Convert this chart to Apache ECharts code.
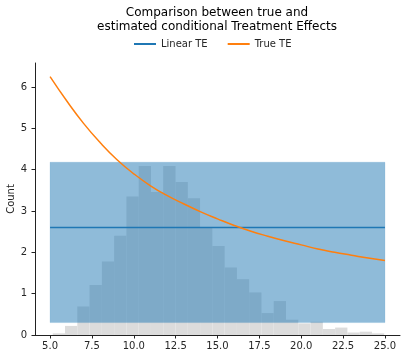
<!DOCTYPE html>
<html>
<head>
<meta charset="utf-8">
<script src="https://cdn.jsdelivr.net/npm/echarts@6/dist/echarts.min.js"></script>
<style>
  html, body { margin: 0; padding: 0; background: #fff; }
  #main { width: 407px; height: 360px; }
</style>
</head>
<body>
<div id="main"></div>
<script>
// histogram of X (Count), bins start at 5.16, width 0.733
var binStart = 5.16;
var binWidth = 0.7333;
var counts = [0.04, 0.22, 0.69, 1.21, 1.78, 2.40, 3.35, 4.09, 3.46, 4.09, 3.70, 3.31, 2.61, 2.15,
  1.63, 1.35, 1.03, 0.53, 0.82, 0.37, 0.28, 0.32, 0.145, 0.18, 0.06, 0.08, 0.04];

// estimated (linear) treatment effect and its interval
var teX = [5, 25];
var linearTE = [2.6, 2.6];
var teLower = [0.3, 0.3];
var teUpper = [4.18, 4.18];

// true treatment effect
var trueX = [5, 6, 7, 8, 9, 10, 11, 12, 13, 14, 15, 16, 17, 18, 19, 20, 21, 22, 23, 24, 25];
var trueTE = [6.25, 5.66, 5.12, 4.65, 4.24, 3.90, 3.61, 3.37, 3.17, 2.98, 2.81, 2.65, 2.51, 2.39,
  2.28, 2.18, 2.08, 2.00, 1.93, 1.86, 1.80];

var xTicks = [5, 7.5, 10, 12.5, 15, 17.5, 20, 22.5, 25];

var histData = counts.map(function (c, i) {
  return [binStart + i * binWidth, binStart + (i + 1) * binWidth, c];
});
var bandData = teX.map(function (x, i) { return [x, teLower[i], teUpper[i]]; });

var font = 'DejaVu Sans';
var myChart = echarts.init(document.getElementById('main'));
var option = {
  animation: false,
  title: {
    text: 'Comparison between true and\nestimated conditional Treatment Effects',
    left: 217,
    top: 6,
    padding: 0,
    textAlign: 'center',
    textStyle: { fontFamily: font, fontSize: 12, fontWeight: 'normal', color: '#000', lineHeight: 14 }
  },
  legend: {
    data: ['Linear TE', 'True TE'],
    left: 134,
    top: 39,
    padding: 0,
    icon: 'rect',
    itemWidth: 22,
    itemHeight: 2,
    itemGap: 20,
    textStyle: { fontFamily: font, fontSize: 10, color: '#262626' }
  },
  grid: { left: 35, right: 7, top: 63, bottom: 25, containLabel: false, outerBoundsMode: 'none' },
  xAxis: {
    type: 'value',
    min: 4.1,
    max: 25.9,
    splitLine: { show: false },
    axisLine: { lineStyle: { color: '#222', width: 1 } },
    axisTick: { customValues: xTicks, length: 3.5, lineStyle: { color: '#222' } },
    axisLabel: {
      customValues: xTicks,
      margin: 6,
      fontFamily: font, fontSize: 10, color: '#262626',
      formatter: function (v) { return v.toFixed(1); }
    }
  },
  yAxis: {
    type: 'value',
    name: 'Count',
    nameLocation: 'middle',
    nameGap: 19,
    nameMoveOverlap: false,
    nameTextStyle: { fontFamily: font, fontSize: 10, color: '#262626' },
    min: 0,
    max: 6.58,
    interval: 1,
    splitLine: { show: false },
    axisLine: { show: true, lineStyle: { color: '#222', width: 1 } },
    axisTick: { show: true, length: 3.5, lineStyle: { color: '#222' } },
    axisLabel: { margin: 8, fontFamily: font, fontSize: 10, color: '#262626', showMaxLabel: false }
  },
  series: [
    {
      // histogram
      type: 'custom',
      silent: true,
      data: histData,
      encode: { x: [0, 1], y: 2 },
      renderItem: function (params, api) {
        var p0 = api.coord([api.value(0), api.value(2)]);
        var p1 = api.coord([api.value(1), 0]);
        return {
          type: 'rect',
          shape: { x: p0[0], y: p0[1], width: p1[0] - p0[0], height: p1[1] - p0[1] },
          style: { fill: '#dcdcdc' }
        };
      },
      z: 1
    },
    {
      // interval band
      type: 'custom',
      silent: true,
      data: bandData,
      encode: { x: 0, y: [1, 2] },
      renderItem: function (params, api) {
        if (params.dataIndex !== 0) return null;
        var pts = [];
        bandData.forEach(function (d) { pts.push(api.coord([d[0], d[2]])); });
        for (var i = bandData.length - 1; i >= 0; i--) {
          pts.push(api.coord([bandData[i][0], bandData[i][1]]));
        }
        return {
          type: 'polygon',
          shape: { points: pts },
          style: { fill: 'rgba(31,119,180,0.5)', stroke: 'rgba(31,119,180,0.15)', lineWidth: 1 }
        };
      },
      z: 2
    },
    {
      name: 'Linear TE',
      type: 'line',
      data: teX.map(function (x, i) { return [x, linearTE[i]]; }),
      symbol: 'none',
      color: '#1f77b4',
      lineStyle: { width: 1.5 },
      z: 3
    },
    {
      name: 'True TE',
      type: 'line',
      data: trueX.map(function (x, i) { return [x, trueTE[i]]; }),
      symbol: 'none',
      smooth: true,
      color: '#ff7f0e',
      lineStyle: { width: 1.5 },
      z: 4
    }
  ]
};
myChart.setOption(option);
</script>
</body>
</html>
